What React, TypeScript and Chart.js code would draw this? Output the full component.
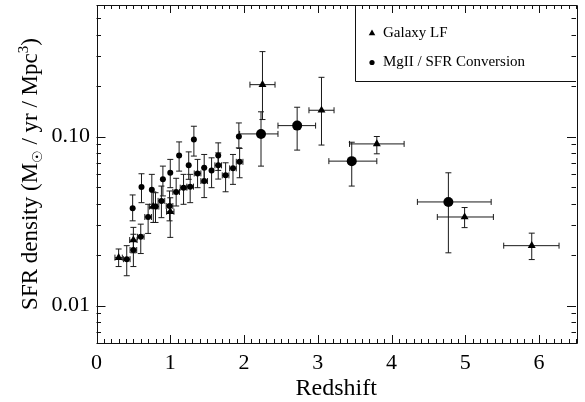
import React, { useEffect, useRef } from 'react';
import { Chart, registerables } from 'chart.js';

Chart.register(...registerables);

// ---- Galaxy luminosity function (triangles) ----
const lfZ = [0.30, 0.50, 0.77, 1.00, 2.25, 3.05, 3.80, 4.99, 5.90];
const lfZLo = [0.25, 0.45, 0.72, 0.95, 2.08, 2.88, 3.43, 4.62, 5.52];
const lfZHi = [0.35, 0.55, 0.82, 1.05, 2.42, 3.22, 4.17, 5.38, 6.27];
const lfSfr = [0.0192, 0.0244, 0.0385, 0.0359, 0.2027, 0.143, 0.0904, 0.0334, 0.0226];
const lfSfrLo = [0.0170, 0.0205, 0.0310, 0.0253, 0.126, 0.089, 0.079, 0.0289, 0.0187];
const lfSfrHi = [0.0216, 0.0290, 0.0470, 0.0434, 0.318, 0.224, 0.100, 0.0380, 0.0268];

// ---- MgII / SFR conversion, low redshift (small circles) ----
const mgZ = [0.41, 0.49, 0.50, 0.60, 0.61, 0.70, 0.75, 0.80, 0.88, 0.90, 0.99, 1.00, 1.08, 1.12,
  1.18, 1.25, 1.27, 1.32, 1.37, 1.46, 1.46, 1.56, 1.65, 1.65, 1.75, 1.85, 1.93, 1.94];
const mgZErr = [0.045, 0, 0.045, 0.045, 0, 0.045, 0, 0.045, 0.045, 0, 0.045, 0, 0.045, 0,
  0.045, 0, 0.045, 0, 0.045, 0, 0.045, 0, 0, 0.045, 0.045, 0.045, 0, 0.045];
const mgSfr = [0.0188, 0.0376, 0.0213, 0.0255, 0.0502, 0.0334, 0.0484, 0.0385, 0.0416, 0.0558,
  0.0388, 0.0610, 0.0470, 0.0773, 0.0498, 0.0675, 0.0505, 0.0960, 0.0605, 0.0653, 0.0545, 0.0630,
  0.0773, 0.0675, 0.0589, 0.0648, 0.1000, 0.0708];
const mgSfrLo = [0.0150, 0.0317, 0.0170, 0.0203, 0.0406, 0.0267, 0.0379, 0.0310, 0.0331, 0.0445,
  0.0317, 0.0498, 0.0388, 0.0624, 0.0397, 0.0558, 0.0406, 0.0766, 0.0498, 0.0533, 0.0435, 0.0498,
  0.0630, 0.0560, 0.0471, 0.0521, 0.0857, 0.0570];
const mgSfrHi = [0.0226, 0.0451, 0.0264, 0.0303, 0.0602, 0.0397, 0.0597, 0.0465, 0.0509, 0.0668,
  0.0476, 0.0732, 0.0566, 0.0929, 0.0597, 0.0811, 0.0597, 0.1150, 0.0732, 0.0783, 0.0653, 0.0748,
  0.0917, 0.0800, 0.0699, 0.0783, 0.1203, 0.0850];

// ---- MgII / SFR conversion, high redshift bins (large circles) ----
const bigZ = [2.23, 2.72, 3.46, 4.77];
const bigZLo = [1.94, 2.46, 3.15, 4.35];
const bigZHi = [2.46, 2.97, 3.80, 5.35];
const bigSfr = [0.1036, 0.116, 0.0715, 0.041];
const bigSfrLo = [0.0668, 0.0831, 0.0509, 0.0205];
const bigSfrHi = [0.140, 0.149, 0.0925, 0.061];

// ---- axes ----
const xMin = 0;
const xMax = 6.5;
const yMin = 0.006;
const yMax = 0.6;
const xTickValues = [0, 1, 2, 3, 4, 5, 6];
const yTickValues = [0.01, 0.1];
const yTickLabels = ['0.01', '0.10'];
const xTitle = 'Redshift';
const legendLabels = ['Galaxy LF', 'MgII / SFR Conversion'];

const FONT = "'Liberation Serif', 'Times New Roman', serif";

const errorBarPlugin = {
  id: 'errorBars',
  beforeDatasetsDraw(chart: any) {
    const { ctx } = chart;
    const xs = chart.scales.x;
    const ys = chart.scales.y;
    const cap = 3;
    ctx.save();
    ctx.strokeStyle = '#1a1a1a';
    ctx.lineWidth = 1;
    const one = (z: number, zl: number, zh: number, v: number, vl: number, vh: number) => {
      const px = xs.getPixelForValue(z);
      const py = ys.getPixelForValue(v);
      const yl = ys.getPixelForValue(vl);
      const yh = ys.getPixelForValue(vh);
      ctx.beginPath();
      ctx.moveTo(px, yl); ctx.lineTo(px, yh);
      ctx.moveTo(px - cap, yl); ctx.lineTo(px + cap, yl);
      ctx.moveTo(px - cap, yh); ctx.lineTo(px + cap, yh);
      if (zh > zl) {
        const xl = xs.getPixelForValue(zl);
        const xh = xs.getPixelForValue(zh);
        ctx.moveTo(xl, py); ctx.lineTo(xh, py);
        ctx.moveTo(xl, py - cap); ctx.lineTo(xl, py + cap);
        ctx.moveTo(xh, py - cap); ctx.lineTo(xh, py + cap);
      }
      ctx.stroke();
    };
    lfZ.forEach((z, i) => one(z, lfZLo[i], lfZHi[i], lfSfr[i], lfSfrLo[i], lfSfrHi[i]));
    mgZ.forEach((z, i) => one(z, z - mgZErr[i], z + mgZErr[i], mgSfr[i], mgSfrLo[i], mgSfrHi[i]));
    bigZ.forEach((z, i) => one(z, bigZLo[i], bigZHi[i], bigSfr[i], bigSfrLo[i], bigSfrHi[i]));
    ctx.restore();
  },
};

const framePlugin = {
  id: 'frameTicks',
  afterDraw(chart: any) {
    const { ctx, chartArea } = chart;
    const { left, right, top, bottom } = chartArea;
    const xs = chart.scales.x;
    const ys = chart.scales.y;
    ctx.save();
    ctx.strokeStyle = '#111';
    ctx.lineWidth = 1;
    ctx.beginPath();
    ctx.rect(Math.round(left) + 0.5, Math.round(top) + 0.5, Math.round(right - left), Math.round(bottom - top));
    ctx.stroke();

    ctx.beginPath();
    // x ticks every 0.1, major at integers
    for (let i = Math.round(xMin * 10); i <= Math.round(xMax * 10); i++) {
      const v = i / 10;
      const px = Math.round(xs.getPixelForValue(v)) + 0.5;
      const len = i % 10 === 0 ? 8 : 4;
      ctx.moveTo(px, bottom); ctx.lineTo(px, bottom - len);
      ctx.moveTo(px, top); ctx.lineTo(px, top + len);
    }
    // y ticks: log decades with minor ticks
    for (let d = -3; d <= 0; d++) {
      for (let m = 1; m <= 9; m++) {
        const v = m * Math.pow(10, d);
        if (v < yMin * 0.999 || v > yMax * 1.001) continue;
        const py = Math.round(ys.getPixelForValue(v)) + 0.5;
        const len = m === 1 ? 9 : 4.5;
        ctx.moveTo(left, py); ctx.lineTo(left + len, py);
        ctx.moveTo(right, py); ctx.lineTo(right - len, py);
      }
    }
    ctx.stroke();

    // x title
    ctx.fillStyle = '#000';
    ctx.font = `24px ${FONT}`;
    ctx.textAlign = 'center';
    ctx.textBaseline = 'middle';
    ctx.fillText(xTitle, (left + right) / 2, 389);

    // y title with subscript sun symbol and superscript 3
    const parts = [
      { t: 'SFR density (M', size: 23, dy: 0, fam: FONT },
      { t: '\u2609', size: 14, dy: 5, fam: "'DejaVu Sans', sans-serif" },
      { t: ' / yr / Mpc', size: 23, dy: 0, fam: FONT },
      { t: '3', size: 15, dy: -9, fam: FONT },
      { t: ')', size: 23, dy: 0, fam: FONT },
    ];
    let total = 0;
    const widths = parts.map((p) => {
      ctx.font = `${p.size}px ${p.fam}`;
      const w = ctx.measureText(p.t).width;
      total += w;
      return w;
    });
    ctx.translate(37, (top + bottom) / 2);
    ctx.rotate(-Math.PI / 2);
    ctx.textAlign = 'left';
    ctx.textBaseline = 'alphabetic';
    let cx = -total / 2;
    parts.forEach((p, i) => {
      ctx.font = `${p.size}px ${p.fam}`;
      ctx.fillText(p.t, cx, p.dy);
      cx += widths[i];
    });
    ctx.restore();

    // legend box in the top-right corner of the plot
    ctx.save();
    const bx = right - 221;
    const by = top + 76;
    ctx.strokeStyle = '#111';
    ctx.lineWidth = 1;
    ctx.beginPath();
    ctx.moveTo(Math.round(bx) + 0.5, top);
    ctx.lineTo(Math.round(bx) + 0.5, Math.round(by) + 0.5);
    ctx.lineTo(right, Math.round(by) + 0.5);
    ctx.stroke();
    ctx.fillStyle = '#000';
    const tx = bx + 17;
    const ty1 = top + 28;
    const ty2 = top + 57;
    ctx.beginPath();
    ctx.moveTo(tx, ty1 - 3.5);
    ctx.lineTo(tx + 3.3, ty1 + 2.3);
    ctx.lineTo(tx - 3.3, ty1 + 2.3);
    ctx.closePath();
    ctx.fill();
    ctx.beginPath();
    ctx.arc(tx, ty2 + 0.5, 2.6, 0, Math.PI * 2);
    ctx.fill();
    ctx.font = `15px ${FONT}`;
    ctx.textAlign = 'left';
    ctx.textBaseline = 'middle';
    ctx.fillText(legendLabels[0], bx + 28, ty1);
    ctx.fillText(legendLabels[1], bx + 28, ty2);
    ctx.restore();
  },
};

export default function App() {
  const canvasRef = useRef<HTMLCanvasElement | null>(null);

  useEffect(() => {
    const canvas = canvasRef.current;
    if (!canvas) return;
    const chart = new Chart(canvas, {
      type: 'scatter',
      data: {
        datasets: [
          {
            label: legendLabels[0],
            data: lfZ.map((z, i) => ({ x: z, y: lfSfr[i] })),
            pointStyle: 'triangle',
            pointRadius: 4.6,
            backgroundColor: '#000',
            borderColor: '#000',
            borderWidth: 0,
          },
          {
            label: legendLabels[1],
            data: mgZ.map((z, i) => ({ x: z, y: mgSfr[i] })),
            pointStyle: 'circle',
            pointRadius: 3,
            backgroundColor: '#000',
            borderColor: '#000',
            borderWidth: 0,
          },
          {
            label: legendLabels[1] + ' (binned)',
            data: bigZ.map((z, i) => ({ x: z, y: bigSfr[i] })),
            pointStyle: 'circle',
            pointRadius: 5,
            backgroundColor: '#000',
            borderColor: '#000',
            borderWidth: 0,
          },
        ],
      },
      options: {
        animation: false,
        responsive: false,
        devicePixelRatio: 1,
        layout: { padding: { top: 4, right: 9, left: 0, bottom: 0 } },
        plugins: {
          legend: { display: false },
          tooltip: { enabled: false },
          title: { display: false },
        },
        scales: {
          x: {
            type: 'linear',
            min: xMin,
            max: xMax,
            grid: { display: false, drawTicks: false },
            border: { display: false },
            ticks: {
              autoSkip: false,
              maxRotation: 0,
              padding: 7,
              color: '#000',
              font: { family: FONT, size: 22 },
              callback: (v: any) => String(v),
            },
            afterBuildTicks: (s: any) => {
              s.ticks = xTickValues.map((v) => ({ value: v }));
            },
            afterFit: (s: any) => {
              s.height = 59;
              s.paddingLeft = 0;
              s.paddingRight = 0;
            },
          },
          y: {
            type: 'logarithmic',
            min: yMin,
            max: yMax,
            grid: { display: false, drawTicks: false },
            border: { display: false },
            ticks: {
              autoSkip: false,
              padding: 6.5,
              color: '#000',
              font: { family: FONT, size: 22 },
              callback: (v: any) => {
                const k = yTickValues.indexOf(v);
                return k >= 0 ? yTickLabels[k] : '';
              },
            },
            afterBuildTicks: (s: any) => {
              s.ticks = yTickValues.map((v) => ({ value: v }));
            },
            afterFit: (s: any) => {
              s.width = 96.5;
              s.paddingTop = 0;
              s.paddingBottom = 0;
            },
          },
        },
      } as any,
      plugins: [errorBarPlugin, framePlugin],
    });
    return () => chart.destroy();
  }, []);

  return (
    <div style={{ position: 'absolute', left: 0, top: 0, width: 585, height: 402, background: '#fff' }}>
      <canvas ref={canvasRef} width={585} height={402} style={{ display: 'block', width: 585, height: 402 }} />
    </div>
  );
}
